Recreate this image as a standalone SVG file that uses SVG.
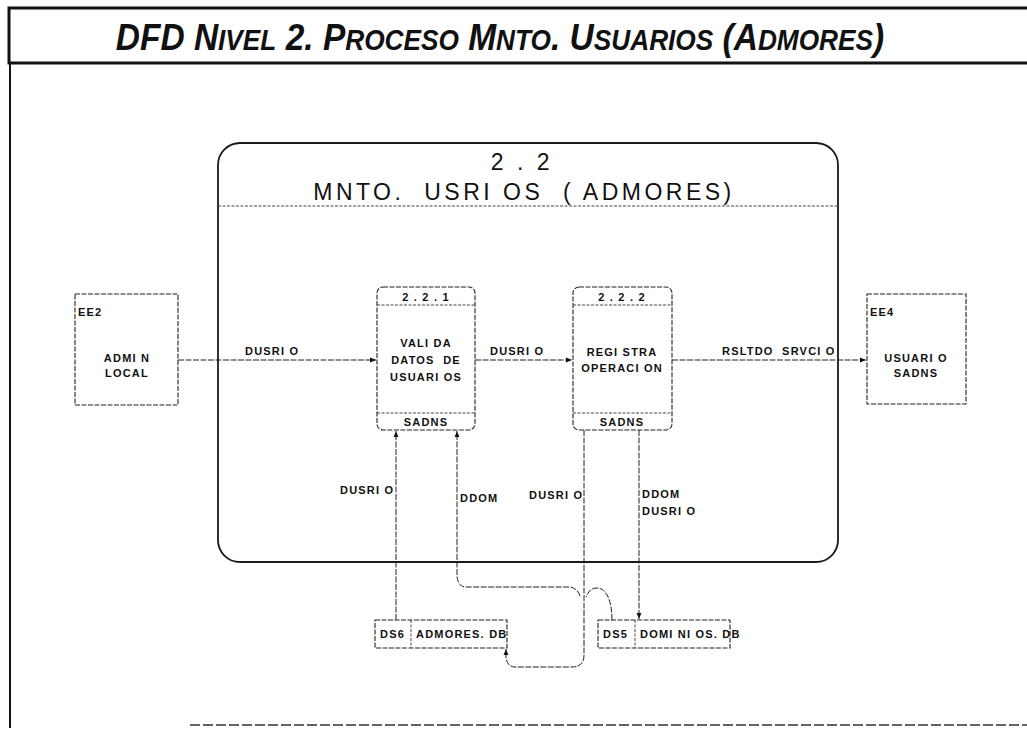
<svg xmlns="http://www.w3.org/2000/svg" width="1027" height="733" viewBox="0 0 1027 733">
<defs>
<style>
.frame{fill:none;stroke:#111;stroke-width:3}
.big{fill:none;stroke:#1a1a1a;stroke-width:1.8}
.box{fill:none;stroke:#222;stroke-width:1.1;stroke-dasharray:5 1.5}
.div{fill:none;stroke:#333;stroke-width:0.9;stroke-dasharray:3 1.5}
.flow{fill:none;stroke:#222;stroke-width:1;stroke-dasharray:6 1.5}
.lbl{font-family:"Liberation Sans",Arial,sans-serif;font-weight:bold;font-size:11px;letter-spacing:1.2px;fill:#111}
.hdr{font-family:"Liberation Sans",Arial,sans-serif;font-size:23px;letter-spacing:3.5px;fill:#111}
.title{font-family:"Liberation Sans",Arial,sans-serif;font-weight:bold;font-style:italic;fill:#111}
</style>
<marker id="ah" viewBox="0 0 10 10" refX="10" refY="5" markerWidth="6" markerHeight="6" orient="auto-start-reverse" markerUnits="userSpaceOnUse">
<path d="M0,1 L10,5 L0,9 z" fill="#111"/>
</marker>
</defs>
<rect width="1027" height="733" fill="#fff"/>
<g id="frame">
<path class="frame" d="M1027,8 L9,8 L9,63 L1027,63"/>
<line x1="10" y1="63" x2="10" y2="728" stroke="#111" stroke-width="2"/>
<line x1="190" y1="725" x2="1027" y2="725" stroke="#333" stroke-width="1.5" stroke-dasharray="10 3"/>
<text class="title" transform="translate(500,50) scale(0.905,1)" x="0" y="0" text-anchor="middle"><tspan font-size="37">DFD N</tspan><tspan font-size="29">IVEL</tspan><tspan font-size="37"> 2. P</tspan><tspan font-size="29">ROCESO</tspan><tspan font-size="37"> M</tspan><tspan font-size="29">NTO</tspan><tspan font-size="37">. U</tspan><tspan font-size="29">SUARIOS</tspan><tspan font-size="37"> (A</tspan><tspan font-size="29">DMORES</tspan><tspan font-size="37">)</tspan></text>
</g>
<g id="p2_2">
<rect class="big" x="218" y="143" width="620" height="419" rx="22" ry="22"/>
<line class="div" x1="218" y1="206" x2="838" y2="206"/>
<text class="hdr" x="522" y="170" text-anchor="middle">2 . 2</text>
<text class="hdr" x="524" y="200" text-anchor="middle" xml:space="preserve">MNTO.  USRI OS  ( ADMORES)</text>
</g>
<g id="ee2">
<rect class="box" x="75" y="294" width="103" height="111"/>
<text class="lbl" x="78" y="316">EE2</text>
<text class="lbl" x="127" y="362" text-anchor="middle">ADMI N</text>
<text class="lbl" x="127" y="377" text-anchor="middle">LOCAL</text>
</g>
<g id="p2_2_1">
<rect class="box" x="377" y="287" width="98" height="143" rx="6"/>
<line class="div" x1="377" y1="305" x2="475" y2="305"/>
<line class="div" x1="377" y1="413" x2="475" y2="413"/>
<text class="lbl" x="426" y="301" text-anchor="middle">2 . 2 . 1</text>
<text class="lbl" x="426" y="347" text-anchor="middle">VALI DA</text>
<text class="lbl" x="426" y="364" text-anchor="middle" xml:space="preserve">DATOS  DE</text>
<text class="lbl" x="426" y="381" text-anchor="middle">USUARI OS</text>
<text class="lbl" x="426" y="426" text-anchor="middle">SADNS</text>
</g>
<g id="p2_2_2">
<rect class="box" x="573" y="287" width="99" height="143" rx="6"/>
<line class="div" x1="573" y1="305" x2="672" y2="305"/>
<line class="div" x1="573" y1="413" x2="672" y2="413"/>
<text class="lbl" x="622" y="301" text-anchor="middle">2 . 2 . 2</text>
<text class="lbl" x="622" y="356" text-anchor="middle">REGI STRA</text>
<text class="lbl" x="622" y="372" text-anchor="middle">OPERACI ON</text>
<text class="lbl" x="622" y="426" text-anchor="middle">SADNS</text>
</g>
<g id="ee4">
<rect class="box" x="867" y="294" width="99" height="110"/>
<text class="lbl" x="870" y="316">EE4</text>
<text class="lbl" x="916" y="362" text-anchor="middle">USUARI O</text>
<text class="lbl" x="916" y="377" text-anchor="middle">SADNS</text>
</g>
<g id="ds6">
<rect class="box" x="375" y="620" width="132" height="28"/>
<line class="div" x1="411" y1="620" x2="411" y2="648"/>
<text class="lbl" x="380" y="638">DS6</text>
<text class="lbl" x="416" y="638">ADMORES. DB</text>
</g>
<g id="ds5">
<rect class="box" x="598" y="620" width="132" height="28"/>
<line class="div" x1="635" y1="620" x2="635" y2="648"/>
<text class="lbl" x="603" y="638">DS5</text>
<text class="lbl" x="640" y="638">DOMI NI OS. DB</text>
</g>
<g id="connectors">
<path class="flow" d="M178,360 H376" marker-end="url(#ah)"/>
<path class="flow" d="M475,360 H572" marker-end="url(#ah)"/>
<path class="flow" d="M672,360 H866" marker-end="url(#ah)"/>
<path class="flow" d="M396,620 V431" marker-end="url(#ah)"/>
<path class="flow" d="M612,620 C612,600 606,588 597,588 C590,588 588,593 586,597 M580,596 C578,590 574,587 568,587 H466 C460,587 457,582 457,575 V431" marker-end="url(#ah)"/>
<path class="flow" d="M584,430 V655 C584,663 580,667 572,667 H515 C509,667 506,662 506,656 V649" marker-end="url(#ah)"/>
<path class="flow" d="M639,430 V619" marker-end="url(#ah)"/>
<text class="lbl" x="245" y="355">DUSRI O</text>
<text class="lbl" x="490" y="355">DUSRI O</text>
<text class="lbl" x="722" y="355" xml:space="preserve">RSLTDO  SRVCI O</text>
<text class="lbl" x="340" y="494">DUSRI O</text>
<text class="lbl" x="460" y="502">DDOM</text>
<text class="lbl" x="529" y="499">DUSRI O</text>
<text class="lbl" x="642" y="498">DDOM</text>
<text class="lbl" x="642" y="515">DUSRI O</text>
</g>
</svg>
